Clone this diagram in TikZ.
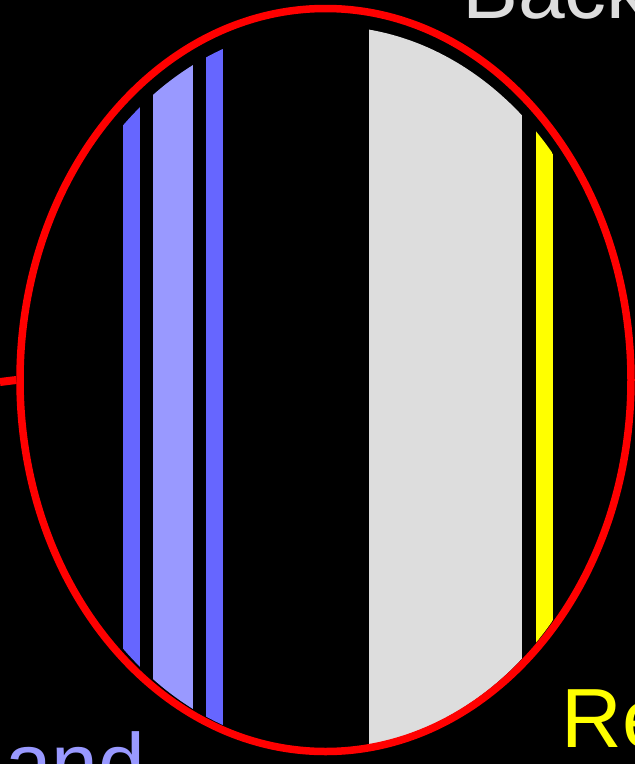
\documentclass[tikz,border=0pt]{standalone}
\usepackage{fontspec}
\setmainfont{Liberation Sans}
\usetikzlibrary{shapes.geometric}
\definecolor{lensred}{RGB}{255,0,0}
\definecolor{darkband}{RGB}{102,102,255}
\definecolor{lightband}{RGB}{153,153,255}
\definecolor{backgray}{RGB}{221,221,221}
\definecolor{refyellow}{RGB}{255,255,0}
\begin{document}
\begin{tikzpicture}[x=1pt, y=-1pt,
    lens/.style={draw=lensred, ellipse, line width=7.5pt, inner sep=0pt,
      minimum width=611pt, minimum height=743pt},
    label/.style={inner sep=0pt, anchor=base west, font=\fontsize{84}{84}\selectfont}
  ]
  \clip (0,0) rectangle (635,764);
  \fill[black] (0,0) rectangle (635,764);

  \begin{scope}
    \clip (327,387) ellipse [x radius=296, y radius=361];
    \foreach \xa/\xb/\col in {123/140/darkband, 153/193/lightband, 206/223/darkband,
                              369/522/backgray, 536/553/refyellow}
      \fill[\col] (\xa,0) rectangle (\xb,764);
  \end{scope}

  \node[lens] (lens) at (325.5,380) {};
  \coordinate (stub) at (0,382);
  \draw[lensred, line width=8pt] (stub) -- (lens.west);

  \node[label, text=backgray] (back) at (462,18) {Back};
  \node[label, text=refyellow] (re) at (561.5,747) {Re};
  \node[label, text=lightband] (and) at (5,792) {and};
\end{tikzpicture}
\end{document}
